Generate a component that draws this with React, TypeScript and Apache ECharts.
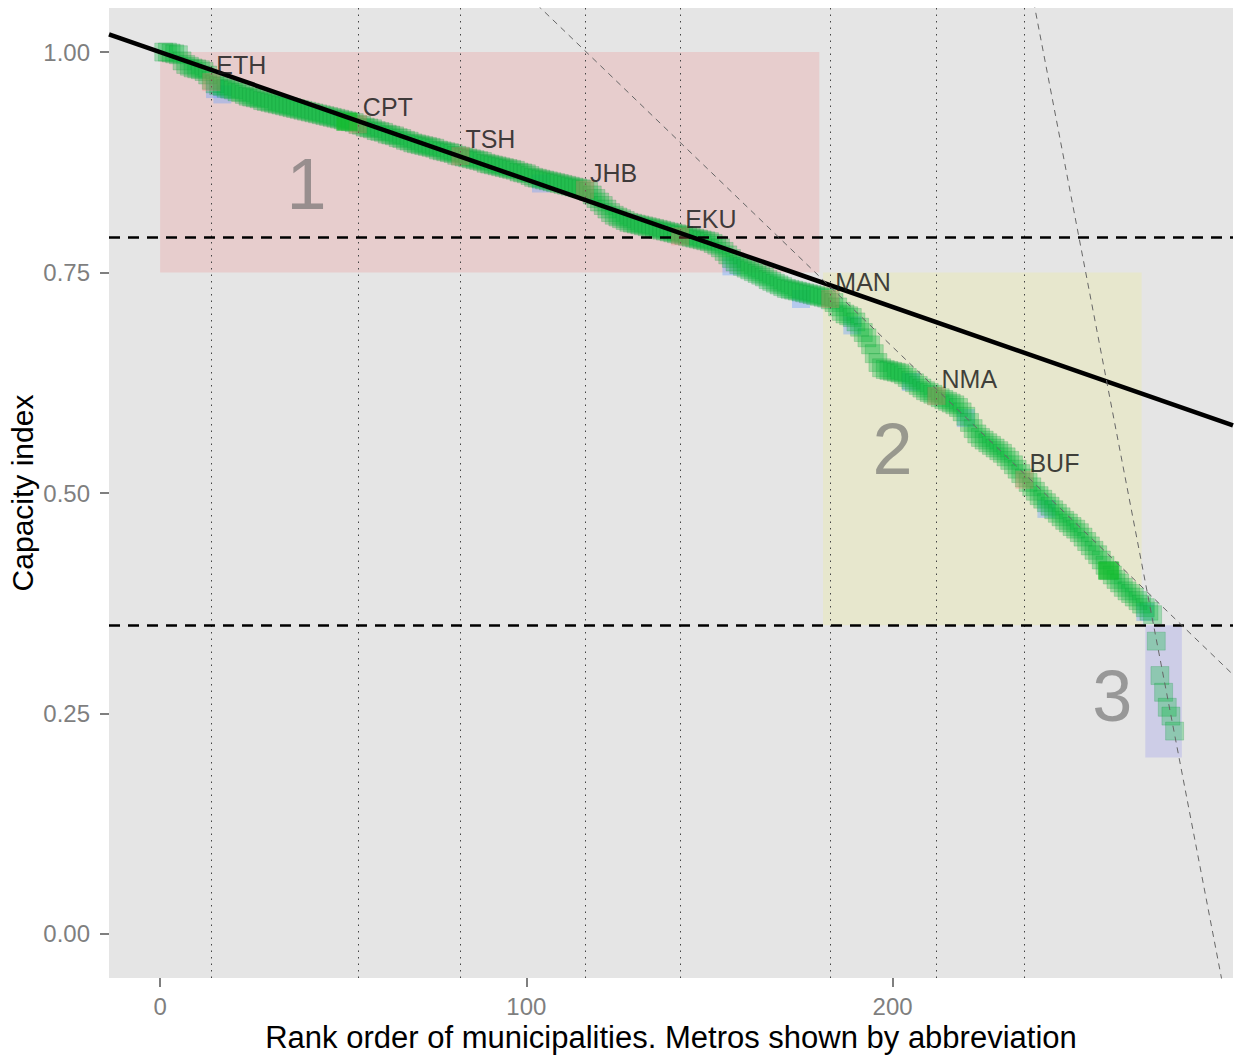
import React, { useEffect, useRef } from "react";
import * as echarts from "echarts";

// ---- Data ----
// capacity index for ranks 1..271 (main band)
const bandValues = [
  1.0, 1.0, 0.999, 0.998, 0.997, 0.99, 0.986, 0.984, 0.982, 0.981,
  0.98, 0.978, 0.974, 0.968, 0.964, 0.962, 0.961, 0.959, 0.958, 0.957,
  0.955, 0.954, 0.952, 0.95, 0.949, 0.948, 0.947, 0.945, 0.944, 0.943,
  0.942, 0.941, 0.94, 0.939, 0.938, 0.937, 0.936, 0.935, 0.934, 0.933,
  0.932, 0.931, 0.93, 0.929, 0.928, 0.927, 0.926, 0.925, 0.924, 0.923,
  0.922, 0.921, 0.92, 0.918, 0.917, 0.915, 0.914, 0.913, 0.911, 0.91,
  0.909, 0.907, 0.906, 0.905, 0.903, 0.902, 0.9, 0.899, 0.897, 0.896,
  0.895, 0.894, 0.893, 0.892, 0.891, 0.889, 0.888, 0.887, 0.886, 0.885,
  0.883, 0.882, 0.881, 0.88, 0.879, 0.878, 0.877, 0.876, 0.874, 0.873,
  0.872, 0.871, 0.87, 0.869, 0.868, 0.867, 0.866, 0.864, 0.863, 0.862,
  0.86, 0.858, 0.857, 0.856, 0.855, 0.854, 0.853, 0.852, 0.851, 0.85,
  0.849, 0.848, 0.847, 0.846, 0.845, 0.844, 0.842, 0.838, 0.834, 0.83,
  0.826, 0.822, 0.818, 0.815, 0.813, 0.811, 0.809, 0.807, 0.806, 0.805,
  0.804, 0.803, 0.802, 0.801, 0.8, 0.799, 0.798, 0.797, 0.796, 0.795,
  0.794, 0.793, 0.792, 0.791, 0.79, 0.789, 0.788, 0.787, 0.786, 0.785,
  0.783, 0.781, 0.778, 0.774, 0.77, 0.766, 0.762, 0.759, 0.757, 0.755,
  0.753, 0.751, 0.749, 0.747, 0.745, 0.742, 0.74, 0.738, 0.736, 0.734,
  0.732, 0.731, 0.73, 0.729, 0.728, 0.727, 0.726, 0.725, 0.724, 0.723,
  0.722, 0.721, 0.719, 0.716, 0.711, 0.706, 0.703, 0.701, 0.699, 0.694,
  0.688, 0.682, 0.676, 0.668, 0.658, 0.648, 0.642, 0.64, 0.639, 0.638,
  0.637, 0.636, 0.634, 0.631, 0.628, 0.625, 0.622, 0.619, 0.616, 0.614,
  0.612, 0.61, 0.608, 0.606, 0.604, 0.602, 0.6, 0.597, 0.592, 0.587,
  0.58, 0.573, 0.567, 0.563, 0.56, 0.557, 0.554, 0.551, 0.548, 0.545,
  0.541, 0.537, 0.532, 0.527, 0.522, 0.517, 0.512, 0.507, 0.502, 0.497,
  0.493, 0.489, 0.485, 0.481, 0.477, 0.473, 0.469, 0.466, 0.462, 0.459,
  0.455, 0.45, 0.445, 0.44, 0.435, 0.43, 0.424, 0.418, 0.412, 0.407,
  0.402, 0.398, 0.393, 0.389, 0.386, 0.382, 0.378, 0.374, 0.37, 0.366,
  0.362,
];
const tailRanks = [272, 273, 274, 275, 276, 277];
const tailValues = [0.332, 0.293, 0.274, 0.257, 0.247, 0.23];

const highlightRanks = [51, 259];
const highlightValues = [0.921, 0.412];

const blueRanks = [15, 17, 104, 156, 175, 189, 205, 220, 242, 269];
const blueValues = [0.958, 0.952, 0.851, 0.757, 0.72, 0.69, 0.626, 0.585, 0.482, 0.365];

const metroNames = ["ETH", "CPT", "TSH", "JHB", "EKU", "MAN", "NMA", "BUF"];
const metroRanks = [14, 54, 82, 116, 142, 183, 212, 236];
const metroValues = [0.966, 0.918, 0.882, 0.844, 0.791, 0.72, 0.61, 0.515];

const thresholds = [0.79, 0.35];

const groupNames = ["1", "2", "3"];
const groupRanks = [40, 200, 260];
const groupValues = [0.85, 0.55, 0.27];

const regionXMin = [0, 181, 269];
const regionXMax = [180, 268, 279];
const regionYMin = [0.75, 0.35, 0.2];
const regionYMax = [1.0, 0.75, 0.35];
const regionColors = ["rgba(255,0,0,0.1)", "rgba(255,255,0,0.1)", "rgba(0,0,255,0.1)"];

const fitIntercepts = [1.0, 1.4653, 6.2067];
const fitSlopes = [-0.001445, -0.003998, -0.02159];

const xTicks = [0, 100, 200];
const yTicks = [0, 0.25, 0.5, 0.75, 1.0];

const X_MIN = -13.95;
const X_MAX = 292.95;
const Y_MIN = -0.05;
const Y_MAX = 1.05;

const FONT = "'Liberation Sans', Arial, Helvetica, sans-serif";

export default function App() {
  const ref = useRef<HTMLDivElement>(null);

  useEffect(() => {
    document.body.style.margin = "0";
    if (!ref.current) return;
    const chart = echarts.init(ref.current, null, { renderer: "svg" });

    const bandData = bandValues.map((v, i) => [i + 1, v]);
    const tailData = tailRanks.map((r, i) => [r, tailValues[i]]);

    const fitSeries = fitIntercepts.map((a, i) => {
      const b = fitSlopes[i];
      const main = i === 0;
      return {
        type: "line",
        z: 7,
        silent: true,
        showSymbol: false,
        clip: true,
        data: [
          [X_MIN, a + b * X_MIN],
          [X_MAX, a + b * X_MAX],
        ],
        lineStyle: main
          ? { color: "#000", width: 4.5, type: "solid" }
          : { color: "#666", width: 1, type: [6, 5] },
      };
    });

    const option: any = {
      animation: false,
      textStyle: { fontFamily: FONT },
      grid: {
        left: 109,
        right: 2,
        top: 8,
        bottom: 81,
        show: true,
        backgroundColor: "#E5E5E5",
        borderWidth: 0,
        containLabel: false,
        outerBoundsMode: "none",
      },
      xAxis: {
        type: "value",
        min: X_MIN,
        max: X_MAX,
        axisLine: { show: false, onZero: false },
        splitLine: { show: false },
        axisTick: {
          show: true,
          customValues: xTicks,
          length: 9,
          lineStyle: { color: "#7F7F7F", width: 2 },
        },
        axisLabel: {
          customValues: xTicks,
          color: "#7F7F7F",
          fontSize: 24,
          margin: 16,
          fontFamily: FONT,
        },
        name: "Rank order of municipalities. Metros shown by abbreviation",
        nameLocation: "middle",
        nameGap: 44,
        nameMoveOverlap: false,
        nameTextStyle: { color: "#000", fontSize: 31, fontFamily: FONT },
      },
      yAxis: {
        type: "value",
        min: Y_MIN,
        max: Y_MAX,
        axisLine: { show: false, onZero: false },
        splitLine: { show: false },
        axisTick: {
          show: true,
          customValues: yTicks,
          length: 9,
          lineStyle: { color: "#7F7F7F", width: 2 },
        },
        axisLabel: {
          customValues: yTicks,
          color: "#7F7F7F",
          fontSize: 24,
          margin: 19,
          fontFamily: FONT,
          formatter: (v: number) => v.toFixed(2),
        },
        name: "Capacity index",
        nameLocation: "middle",
        nameGap: 72,
        nameMoveOverlap: false,
        nameTextStyle: { color: "#000", fontSize: 30, fontFamily: FONT },
      },
      series: [
        // shaded regions
        {
          type: "scatter",
          z: 1,
          silent: true,
          data: [],
          markArea: {
            silent: true,
            data: regionXMin.map((x0, i) => [
              { xAxis: x0, yAxis: regionYMax[i], itemStyle: { color: regionColors[i] } },
              { xAxis: regionXMax[i], yAxis: regionYMin[i] },
            ]),
          },
        },
        // metro vertical dotted lines
        {
          type: "scatter",
          z: 2,
          silent: true,
          data: [],
          markLine: {
            silent: true,
            symbol: ["none", "none"],
            label: { show: false },
            lineStyle: { color: "#444", width: 1, type: [1.5, 5] },
            data: metroRanks.map((r) => ({ xAxis: r })),
          },
        },
        // blue underlay points
        {
          type: "scatter",
          z: 3,
          silent: true,
          symbol: "rect",
          symbolSize: 18,
          itemStyle: { color: "rgba(97,156,255,0.45)" },
          data: blueRanks.map((r, i) => [r, blueValues[i]]),
        },
        // main green band
        {
          type: "scatter",
          z: 4,
          silent: true,
          symbol: "rect",
          symbolSize: 18,
          itemStyle: {
            color: "rgba(0,186,56,0.38)",
            borderColor: "rgba(0,140,50,0.25)",
            borderWidth: 1,
          },
          data: bandData.concat(tailData),
        },
        // metro squares
        {
          type: "scatter",
          z: 5,
          silent: true,
          symbol: "rect",
          symbolSize: 18,
          itemStyle: { color: "rgba(248,118,109,0.35)" },
          data: metroRanks.map((r, i) => [r, metroValues[i]]),
        },
        // highlighted squares
        {
          type: "scatter",
          z: 5,
          silent: true,
          symbol: "rect",
          symbolSize: [21, 18],
          itemStyle: { color: "rgba(20,188,45,0.9)" },
          data: highlightRanks.map((r, i) => [r, highlightValues[i]]),
        },
        // threshold dashed lines
        {
          type: "scatter",
          z: 6,
          silent: true,
          data: [],
          markLine: {
            silent: true,
            symbol: ["none", "none"],
            label: { show: false },
            lineStyle: { color: "#000", width: 2.5, type: [11, 8] },
            data: thresholds.map((t) => ({ yAxis: t })),
          },
        },
        ...fitSeries,
        // metro labels
        {
          type: "scatter",
          z: 8,
          silent: true,
          symbolSize: 0,
          data: metroRanks.map((r, i) => ({ name: metroNames[i], value: [r, metroValues[i]] })),
          label: {
            show: true,
            position: "right",
            distance: 5,
            offset: [0, -17],
            formatter: "{b}",
            fontSize: 25,
            color: "#111",
            fontFamily: FONT,
          },
        },
        // group numbers
        {
          type: "scatter",
          z: 8,
          silent: true,
          symbolSize: 0,
          data: groupRanks.map((r, i) => ({ name: groupNames[i], value: [r, groupValues[i]] })),
          label: {
            show: true,
            position: "inside",
            formatter: "{b}",
            fontSize: 72,
            color: "rgba(100,100,100,0.75)",
            fontFamily: FONT,
          },
        },
      ],
    };

    chart.setOption(option);
    return () => {
      chart.dispose();
    };
  }, []);

  return (
    <div
      ref={ref}
      style={{ position: "absolute", left: 0, top: 0, width: 1235, height: 1059, background: "#fff" }}
    />
  );
}
